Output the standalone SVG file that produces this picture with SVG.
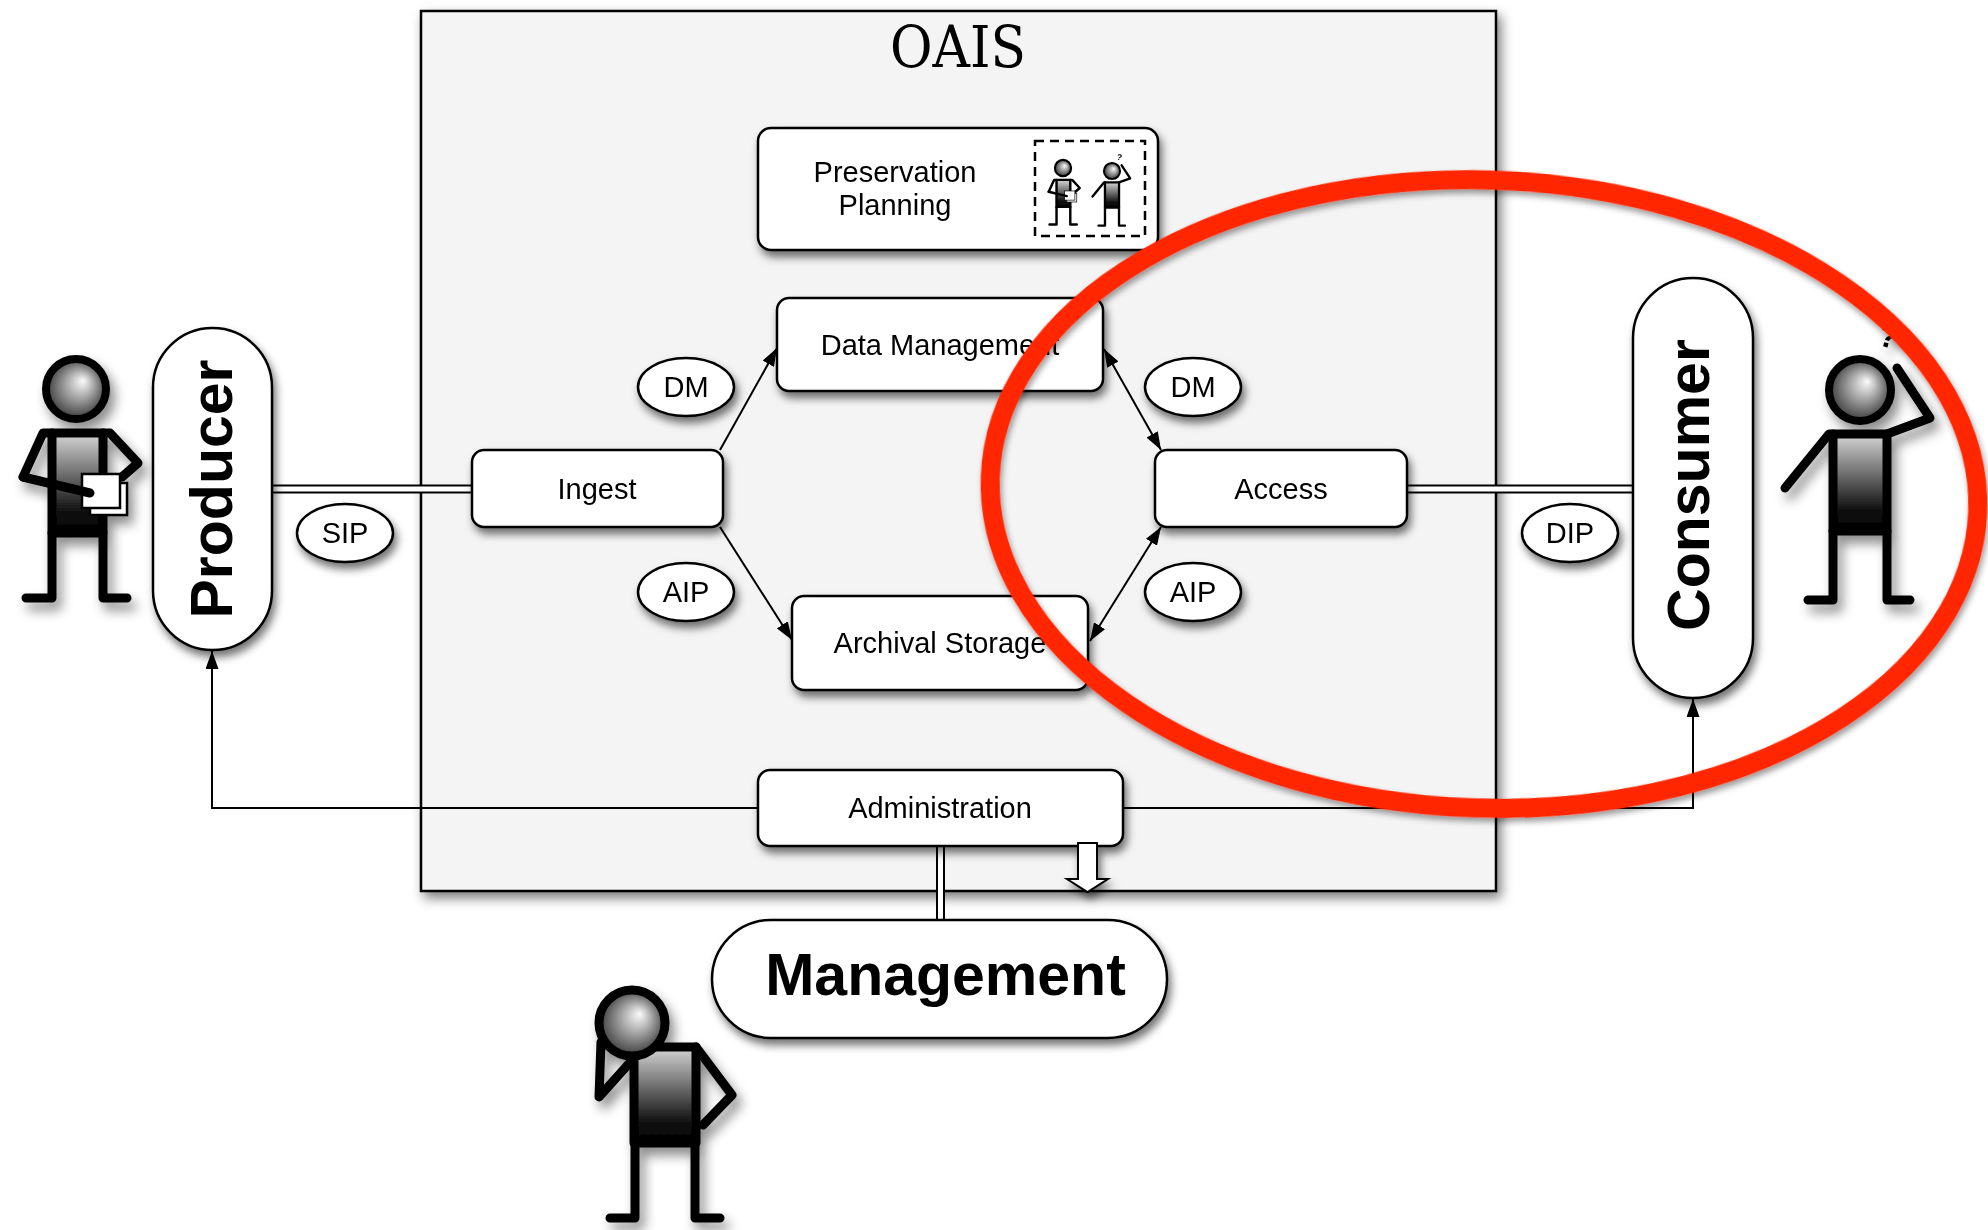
<svg xmlns="http://www.w3.org/2000/svg" xmlns:xlink="http://www.w3.org/1999/xlink" width="1988" height="1230" viewBox="0 0 1988 1230">
  <defs>
    <filter id="shadow" x="-30%" y="-30%" width="170%" height="180%">
      <feDropShadow dx="3" dy="6" stdDeviation="4" flood-color="#000" flood-opacity="0.55"/>
    </filter>
    <filter id="shadow-frame" x="-5%" y="-5%" width="112%" height="115%">
      <feDropShadow dx="4" dy="6" stdDeviation="6" flood-color="#000" flood-opacity="0.5"/>
    </filter>
    <filter id="shadow-soft" x="-40%" y="-20%" width="190%" height="150%">
      <feDropShadow dx="5" dy="8" stdDeviation="6" flood-color="#000" flood-opacity="0.45"/>
    </filter>
    <filter id="shadow-ring" x="-10%" y="-10%" width="120%" height="125%">
      <feDropShadow dx="2" dy="4" stdDeviation="3" flood-color="#000" flood-opacity="0.4"/>
    </filter>
    <radialGradient id="head-shade" cx="0.5" cy="0.5" r="0.55" fx="0.62" fy="0.36">
      <stop offset="0" stop-color="#fbfbfb"/>
      <stop offset="0.22" stop-color="#cfcfcf"/>
      <stop offset="1" stop-color="#2c2c2c"/>
    </radialGradient>
    <linearGradient id="body-shade" x1="0" y1="0" x2="0" y2="1">
      <stop offset="0" stop-color="#d6d6d6"/>
      <stop offset="0.78" stop-color="#111"/>
      <stop offset="1" stop-color="#000"/>
    </linearGradient>
    <marker id="arrow" viewBox="0 0 18 13" refX="18" refY="6.5" markerWidth="18" markerHeight="13" markerUnits="userSpaceOnUse" orient="auto-start-reverse">
      <path d="M0,0 L18,6.5 L0,13 z" fill="#000"/>
    </marker>

    <!-- stick person holding papers; origin at head centre -->
    <g id="stick-producer">
      <g fill="none" stroke="#000" stroke-width="9" stroke-linecap="round" stroke-linejoin="round">
        <path d="M-24 144 V209 H-50 M27 144 V209 H51"/>
        <rect x="-24" y="44" width="51" height="100" fill="url(#body-shade)"/>
        <path d="M-24 44 H-33 L-53 88 M27 44 H34 L62 74 L46 88"/>
      </g>
      <rect x="14" y="94" width="37" height="32" fill="#fff" stroke="#000" stroke-width="2.5"/>
      <rect x="6" y="85" width="38" height="34" fill="#fff" stroke="#000" stroke-width="2.5"/>
      <path d="M-53 88 L14 104" fill="none" stroke="#000" stroke-width="9" stroke-linecap="round"/>
      <circle r="30" fill="url(#head-shade)" stroke="#000" stroke-width="8"/>
    </g>

    <!-- stick person scratching head; origin at head centre -->
    <g id="stick-consumer">
      <g fill="none" stroke="#000" stroke-width="9" stroke-linecap="round" stroke-linejoin="round">
        <path d="M-27 141 V210 H-52 M27 141 V210 H50"/>
        <rect x="-27" y="44" width="54" height="97" fill="url(#body-shade)"/>
        <path d="M-27 44 H-31 L-75 98"/>
      </g>
      <circle r="31" fill="url(#head-shade)" stroke="#000" stroke-width="8"/>
      <path d="M27 44 L70 28 L37 -22" fill="none" stroke="#000" stroke-width="9" stroke-linecap="round" stroke-linejoin="round"/>
      <text x="0" y="0" transform="translate(26 -43) rotate(15)" font-family="'Liberation Sans', Arial, sans-serif" font-weight="bold" font-size="32" text-anchor="middle">?</text>
    </g>
  </defs>

  <style>
    .box { fill: #fff; stroke: #000; stroke-width: 2.5; }
    .lbl { font-family: "Liberation Sans", Arial, Helvetica, sans-serif; font-size: 29px; text-anchor: middle; fill: #000; }
    .big { font-family: "Liberation Sans", Arial, Helvetica, sans-serif; font-size: 59px; font-weight: bold; text-anchor: middle; fill: #000; }
    .conn { stroke: #000; stroke-width: 2; fill: none; }
    .pipe-outer { stroke: #000; stroke-width: 9; fill: none; }
    .pipe-inner { stroke: #fff; stroke-width: 5; fill: none; }
    .limb { fill: none; stroke: #000; stroke-width: 9; stroke-linecap: round; stroke-linejoin: round; }
  </style>

  <rect width="1988" height="1230" fill="#fff"/>

  <!-- OAIS system boundary -->
  <g id="oais">
    <rect x="421" y="11" width="1075" height="880" fill="#f4f4f4" stroke="#000" stroke-width="2.5" filter="url(#shadow-frame)"/>
    <text x="958" y="67" font-family="'DejaVu Serif', 'Liberation Serif', serif" font-size="58" text-anchor="middle" textLength="136" lengthAdjust="spacingAndGlyphs">OAIS</text>
  </g>

  <!-- connectors -->
  <g id="connectors">
    <path class="pipe-outer" d="M272 489 H472"/>
    <path class="pipe-inner" d="M270 489 H474"/>
    <path class="pipe-outer" d="M1407 489 H1633"/>
    <path class="pipe-inner" d="M1405 489 H1635"/>
    <path class="pipe-outer" d="M940.5 846 V920"/>
    <path class="pipe-inner" d="M940.5 844 V922"/>
    <line class="conn" x1="720" y1="450" x2="777" y2="348" marker-end="url(#arrow)"/>
    <line class="conn" x1="720" y1="527" x2="792" y2="640" marker-end="url(#arrow)"/>
    <line class="conn" x1="1104" y1="349" x2="1161" y2="450" marker-start="url(#arrow)" marker-end="url(#arrow)"/>
    <line class="conn" x1="1090" y1="641" x2="1161" y2="527" marker-start="url(#arrow)" marker-end="url(#arrow)"/>
    <path class="conn" d="M758 808 H212 V651" marker-end="url(#arrow)"/>
    <path class="conn" d="M1123 808 H1693 V699" marker-end="url(#arrow)"/>
  </g>

  <!-- functional entities -->
  <g id="preservation-planning" filter="url(#shadow)">
    <rect class="box" x="758" y="128" width="400" height="122" rx="13"/>
    <text class="lbl" x="895" y="182">Preservation</text>
    <text class="lbl" x="895" y="215">Planning</text>
    <rect x="1035" y="141" width="110" height="95" fill="none" stroke="#000" stroke-width="2.5" stroke-dasharray="9 6"/>
    <use href="#stick-producer" xlink:href="#stick-producer" transform="translate(1063 168) scale(0.27)"/>
    <use href="#stick-consumer" xlink:href="#stick-consumer" transform="translate(1112 171) scale(0.26)"/>
  </g>

  <g id="data-management" filter="url(#shadow)">
    <rect class="box" x="777" y="298" width="326" height="93" rx="12"/>
    <text class="lbl" x="940" y="355">Data Management</text>
  </g>

  <g id="ingest" filter="url(#shadow)">
    <rect class="box" x="472" y="450" width="251" height="77" rx="12"/>
    <text class="lbl" x="597" y="499">Ingest</text>
  </g>

  <g id="access" filter="url(#shadow)">
    <rect class="box" x="1155" y="450" width="252" height="77" rx="12"/>
    <text class="lbl" x="1281" y="499">Access</text>
  </g>

  <g id="archival-storage" filter="url(#shadow)">
    <rect class="box" x="792" y="596" width="296" height="94" rx="12"/>
    <text class="lbl" x="940" y="653">Archival Storage</text>
  </g>

  <g id="administration" filter="url(#shadow)">
    <rect class="box" x="758" y="770" width="365" height="76" rx="12"/>
    <text class="lbl" x="940" y="818">Administration</text>
    <polygon points="1078,843 1097,843 1097,879 1108,879 1087.5,892 1067,879 1078,879" fill="#fff" stroke="#000" stroke-width="2"/>
  </g>

  <!-- information package labels -->
  <g id="label-sip" filter="url(#shadow)">
    <ellipse class="box" cx="345" cy="533" rx="48" ry="29"/>
    <text class="lbl" x="345" y="543">SIP</text>
  </g>
  <g id="label-dm-in" filter="url(#shadow)">
    <ellipse class="box" cx="686" cy="387" rx="48" ry="29"/>
    <text class="lbl" x="686" y="397">DM</text>
  </g>
  <g id="label-aip-in" filter="url(#shadow)">
    <ellipse class="box" cx="686" cy="592" rx="48" ry="29"/>
    <text class="lbl" x="686" y="602">AIP</text>
  </g>
  <g id="label-dm-out" filter="url(#shadow)">
    <ellipse class="box" cx="1193" cy="387" rx="48" ry="29"/>
    <text class="lbl" x="1193" y="397">DM</text>
  </g>
  <g id="label-aip-out" filter="url(#shadow)">
    <ellipse class="box" cx="1193" cy="592" rx="48" ry="29"/>
    <text class="lbl" x="1193" y="602">AIP</text>
  </g>
  <g id="label-dip" filter="url(#shadow)">
    <ellipse class="box" cx="1570" cy="533" rx="48" ry="29"/>
    <text class="lbl" x="1570" y="543">DIP</text>
  </g>

  <!-- external roles -->
  <g id="producer" filter="url(#shadow)">
    <rect class="box" x="153" y="328" width="119" height="322" rx="59.5"/>
    <text class="big" transform="translate(232 489) rotate(-90)">Producer</text>
  </g>
  <g id="consumer" filter="url(#shadow)">
    <rect class="box" x="1633" y="278" width="120" height="420" rx="60"/>
    <text class="big" transform="translate(1709 485) rotate(-90)">Consumer</text>
  </g>
  <g id="management" filter="url(#shadow)">
    <rect class="box" x="712" y="920" width="455" height="118" rx="59"/>
    <text class="big" x="945.5" y="995">Management</text>
  </g>

  <!-- people -->
  <g id="producer-person" filter="url(#shadow-soft)">
    <use href="#stick-producer" xlink:href="#stick-producer" transform="translate(76 389)"/>
  </g>
  <g id="consumer-person" filter="url(#shadow-soft)">
    <use href="#stick-consumer" xlink:href="#stick-consumer" transform="translate(1860 390)"/>
  </g>
  <g id="manager-person" filter="url(#shadow-soft)">
    <g transform="translate(632 1023)">
      <path class="limb" d="M3 120 V195 H-22 M63 120 V195 H88"/>
      <rect x="2" y="24" width="62" height="96" fill="url(#body-shade)" stroke="#000" stroke-width="9" stroke-linejoin="round"/>
      <path class="limb" d="M2 35 L-33 74 L-31 19 M64 24 L100 72 L71 102"/>
      <circle r="33" fill="url(#head-shade)" stroke="#000" stroke-width="9"/>
    </g>
  </g>

  <!-- highlight ring -->
  <g id="highlight">
    <ellipse cx="1484" cy="494" rx="494" ry="314" transform="rotate(2 1484 494)" fill="none" stroke="#ff2600" stroke-width="19" filter="url(#shadow-ring)"/>
  </g>
</svg>
